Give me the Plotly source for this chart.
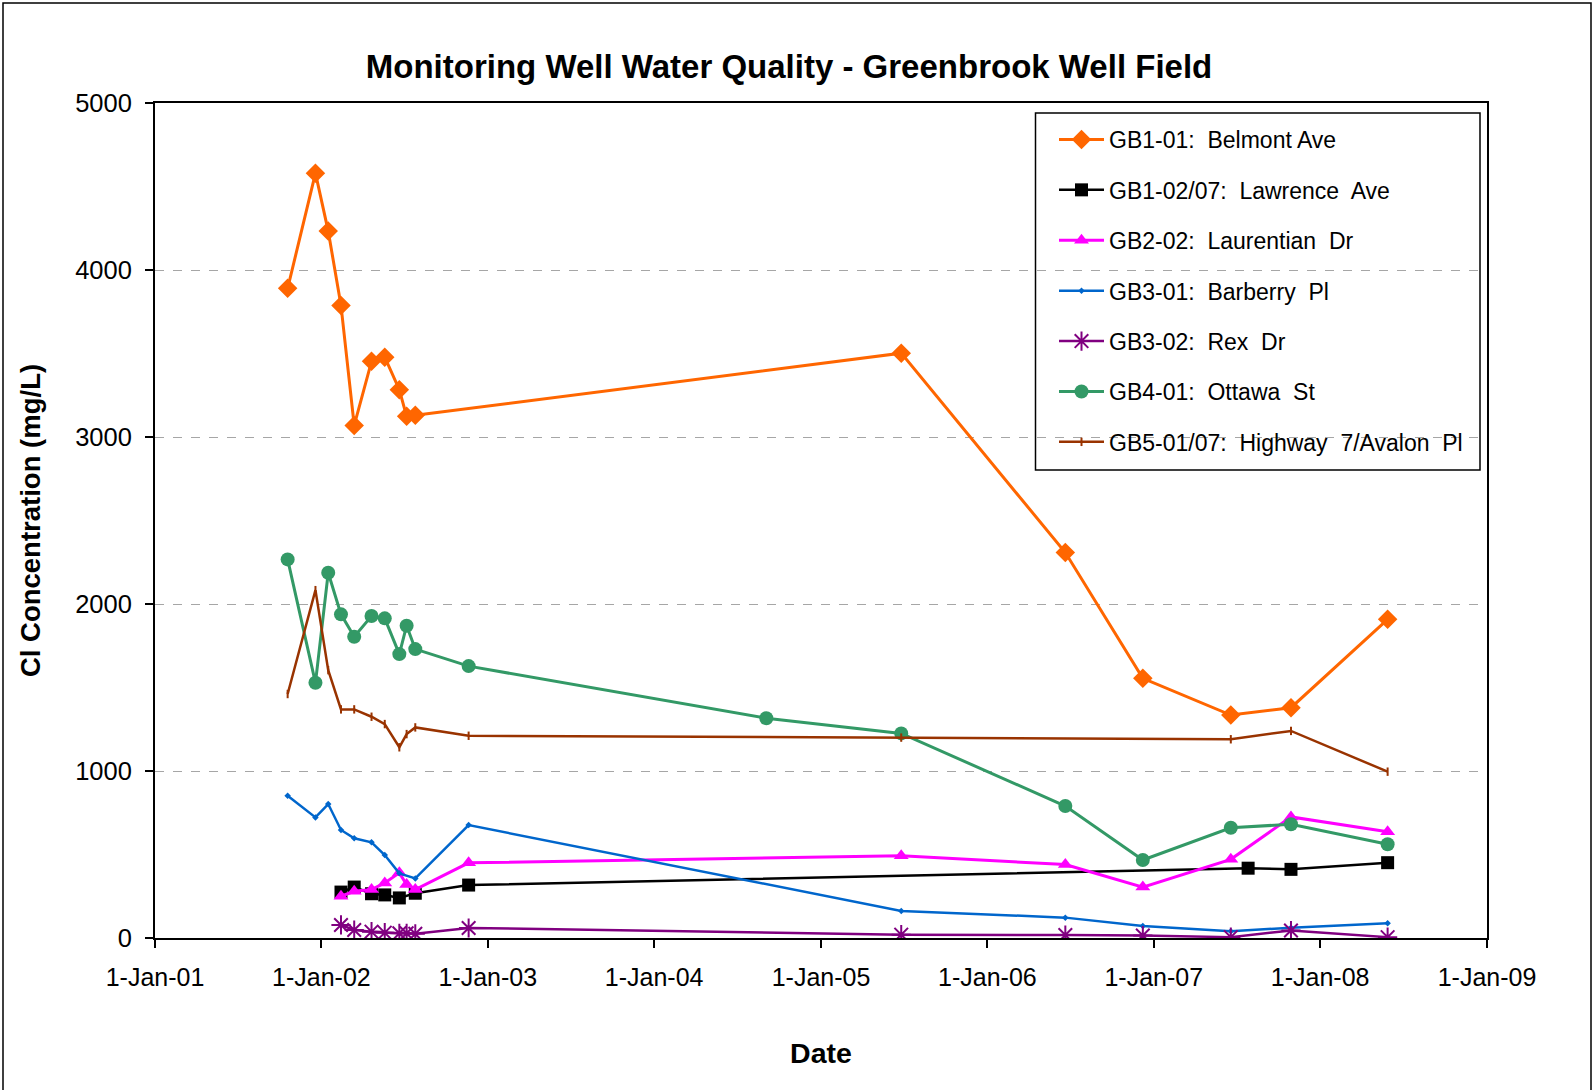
import plotly.graph_objects as go

# ---- data ----
gb101_dates = ["2001-10-19", "2001-12-19", "2002-01-16", "2002-02-13", "2002-03-14", "2002-04-21",
               "2002-05-20", "2002-06-21", "2002-07-07", "2002-07-26", "2005-06-26", "2006-06-21",
               "2006-12-08", "2007-06-19", "2007-10-29", "2008-05-28"]
gb101_vals = [3890, 4580, 4233, 3788, 3069, 3453, 3478, 3283, 3124, 3130, 3502, 2308, 1555, 1335, 1379, 1908]

gb102_dates = ["2002-02-13", "2002-03-14", "2002-04-21", "2002-05-20", "2002-06-21", "2002-07-26",
               "2002-11-20", "2007-07-27", "2007-10-29", "2008-05-28"]
gb102_vals = [275, 305, 265, 258, 240, 268, 317, 418, 411, 451]

gb202_dates = ["2002-02-13", "2002-03-14", "2002-04-21", "2002-05-20", "2002-06-21", "2002-07-07",
               "2002-07-26", "2002-11-20", "2005-06-26", "2006-06-21", "2006-12-08", "2007-06-19",
               "2007-10-29", "2008-05-28"]
gb202_vals = [250, 280, 290, 330, 390, 320, 290, 450, 492, 440, 305, 471, 725, 636]

gb301_dates = ["2001-10-19", "2001-12-19", "2002-01-16", "2002-02-13", "2002-03-14", "2002-04-21",
               "2002-05-20", "2002-06-21", "2002-07-26", "2002-11-20", "2005-06-26", "2006-06-21",
               "2006-12-08", "2007-06-19", "2007-10-29", "2008-05-28"]
gb301_vals = [852, 722, 802, 647, 597, 573, 497, 387, 357, 676, 162, 122, 72, 40, 62, 88]

gb302_dates = ["2002-02-13", "2002-03-14", "2002-04-21", "2002-05-20", "2002-06-21", "2002-07-07",
               "2002-07-26", "2002-11-20", "2005-06-26", "2006-06-21", "2006-12-08", "2007-06-19",
               "2007-10-29", "2008-05-28"]
gb302_vals = [78, 48, 38, 32, 28, 28, 25, 60, 20, 18, 15, 5, 45, 5]

gb401_dates = ["2001-10-19", "2001-12-19", "2002-01-16", "2002-02-13", "2002-03-14", "2002-04-21",
               "2002-05-20", "2002-06-21", "2002-07-07", "2002-07-26", "2002-11-20", "2004-09-03",
               "2005-06-26", "2006-06-21", "2006-12-08", "2007-06-19", "2007-10-29", "2008-05-28"]
gb401_vals = [2267, 1528, 2187, 1938, 1804, 1928, 1914, 1700, 1870, 1730, 1628, 1316, 1225, 790, 467,
              660, 681, 561]

gb501_dates = ["2001-10-19", "2001-12-19", "2002-01-16", "2002-02-13", "2002-03-14", "2002-04-21",
               "2002-05-20", "2002-06-21", "2002-07-07", "2002-07-26", "2002-11-20", "2005-06-26",
               "2007-06-19", "2007-10-29", "2008-05-28"]
gb501_vals = [1461, 2083, 1604, 1369, 1369, 1325, 1281, 1142, 1221, 1261, 1211, 1200, 1190, 1240, 996]

series_names = ["GB1-01:  Belmont Ave", "GB1-02/07:  Lawrence  Ave", "GB2-02:  Laurentian  Dr",
                "GB3-01:  Barberry  Pl", "GB3-02:  Rex  Dr", "GB4-01:  Ottawa  St",
                "GB5-01/07:  Highway  7/Avalon  Pl"]

x_ticks = ["2001-01-01", "2002-01-01", "2003-01-01", "2004-01-01", "2005-01-01",
           "2006-01-01", "2007-01-01", "2008-01-01", "2009-01-01"]
x_ticklabels = ["1-Jan-01", "1-Jan-02", "1-Jan-03", "1-Jan-04", "1-Jan-05",
                "1-Jan-06", "1-Jan-07", "1-Jan-08", "1-Jan-09"]
y_ticks = [0, 1000, 2000, 3000, 4000, 5000]

# ---- styles ----
FONT = "Liberation Sans, Arial, sans-serif"
styles = [
    dict(color="#FF6600", symbol="diamond", size=15, width=3),
    dict(color="#000000", symbol="square", size=13, width=2.5),
    dict(color="#FF00FF", symbol="triangle-up", size=13, width=3),
    dict(color="#0066CC", symbol="diamond", size=5, width=2.5),
    dict(color="#800080", symbol="asterisk-open", size=16, width=2.5),
    dict(color="#339966", symbol="circle", size=14, width=3),
    dict(color="#993300", symbol="line-ns-open", size=6, width=2.5),
]
data = [(gb101_dates, gb101_vals), (gb102_dates, gb102_vals), (gb202_dates, gb202_vals),
        (gb301_dates, gb301_vals), (gb302_dates, gb302_vals), (gb401_dates, gb401_vals),
        (gb501_dates, gb501_vals)]

fig = go.Figure()
for i, ((xs, ys), name, st) in enumerate(zip(data, series_names, styles)):
    mk = dict(symbol=st["symbol"], size=st["size"], color=st["color"])
    if st["symbol"].endswith("open"):
        mk["line"] = dict(color=st["color"], width=2)
    fig.add_trace(go.Scatter(
        x=xs, y=ys, name=name, mode="lines+markers",
        line=dict(color=st["color"], width=st["width"]),
        marker=mk, legendgroup=f"g{i}"))

W, H = 1595, 1090
L, R, T, B = 155, 108, 103, 152
pw, ph = W - L - R, H - T - B

def px(x):
    return (x - L) / pw

def py(y):
    return (H - B - y) / ph

fig.update_layout(
    width=W, height=H,
    margin=dict(l=L, r=R, t=T, b=B, autoexpand=False),
    paper_bgcolor="white", plot_bgcolor="white",
    font=dict(family=FONT, color="#000000"),
    title=dict(text="<b>Monitoring Well Water Quality - Greenbrook Well Field</b>",
               x=px(789), xref="paper", xanchor="center",
               y=1 - 66 / H, yref="container", yanchor="middle",
               font=dict(size=33, family=FONT, color="#000000")),
    xaxis=dict(
        type="date", range=["2001-01-01", "2009-01-01"],
        tickvals=x_ticks, ticktext=x_ticklabels,
        tickfont=dict(size=25, family=FONT),
        ticks="outside", ticklen=8, tickcolor="#000000", tickwidth=2,
        ticklabelstandoff=8,
        showline=True, linecolor="#000000", linewidth=2, mirror=True,
        showgrid=False, zeroline=False,
        title=dict(text="<b>Date</b>", font=dict(size=28.5, family=FONT), standoff=53),
    ),
    yaxis=dict(
        range=[0, 5000], tickvals=y_ticks,
        tickfont=dict(size=25.5, family=FONT),
        ticks="outside", ticklen=8, tickcolor="#000000", tickwidth=2,
        ticklabelstandoff=8,
        showline=True, linecolor="#000000", linewidth=2, mirror=True,
        showgrid=True, gridcolor="#A6A6A6", gridwidth=1, griddash="dash",
        zeroline=False,
        title=dict(text="<b>Cl Concentration (mg/L)</b>", font=dict(size=27.5, family=FONT), standoff=27),
    ),
    legend=dict(
        x=px(1054), y=py(118), xanchor="left", yanchor="top",
        bgcolor="rgba(0,0,0,0)", borderwidth=0,
        font=dict(size=23, family=FONT, color="#000000"),
        tracegroupgap=17.5, itemwidth=45,
    ),
    showlegend=True,
    shapes=[
        # legend frame
        dict(type="rect", xref="paper", yref="paper",
             x0=px(1035.5), x1=px(1480), y0=py(470), y1=py(113),
             line=dict(color="#000000", width=1.5), fillcolor="rgba(0,0,0,0)", layer="above"),
        # outer chart border
        dict(type="rect", xref="paper", yref="paper",
             x0=px(3), x1=px(1591), y0=py(1096), y1=py(3),
             line=dict(color="#000000", width=1.5), fillcolor="rgba(0,0,0,0)", layer="below"),
    ],
)

# remove the browser's default 8px body margin so the figure sits at the page origin
fig.write_html("out.html", config={"displayModeBar": False},
               post_script="document.body.style.margin='0';")
